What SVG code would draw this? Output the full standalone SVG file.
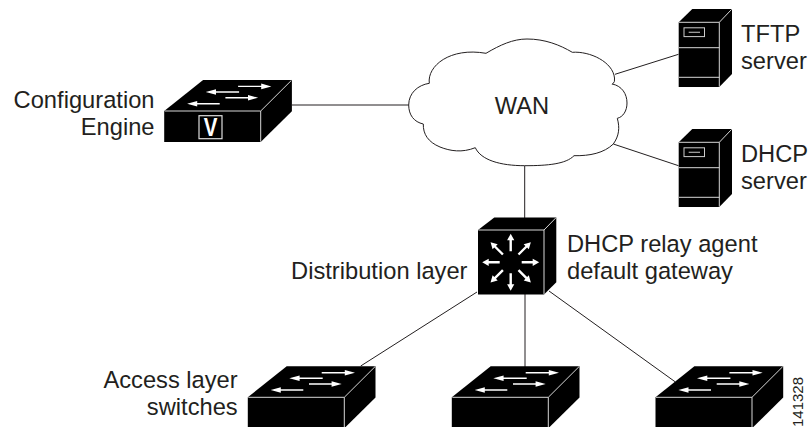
<svg xmlns="http://www.w3.org/2000/svg" xmlns:xlink="http://www.w3.org/1999/xlink" width="809" height="427" viewBox="0 0 809 427">
<style>
text{font-family:"Liberation Sans",Arial,sans-serif;font-size:23.7px;fill:#231f20}
.e{text-anchor:end}
.k{fill:#000;stroke:none}
.c{stroke:#231f20;stroke-width:1;fill:none}
.w{fill:#fff;stroke:none}
.l{stroke:#d8d8d8;stroke-width:1;fill:none}
</style>
<defs>
<g id="sw">
<path class="k" d="M-0.500 0L38.400 -31H127.200V0.200L96 31H-0.500Z"/>
<path class="l" d="M0 0H96L126.700 -30.600M96 0V30.700"/>
<path class="w" d="M73.400 -25.300H96.500V-27.400L106.700 -24.600L96.500 -21.800V-23.900H73.400Z"/>
<path class="w" d="M74.400 -19.700H51.300V-21.800L41 -19L51.300 -16.200V-18.300H74.400Z"/>
<path class="w" d="M60.700 -14H83.300V-16L93.400 -13.300L83.300 -10.600V-12.600H60.700Z"/>
<path class="w" d="M55 -8H32.500V-10L22.400 -7.300L32.500 -4.600V-6.600H55Z"/>
</g>
<g id="srv">
<path class="k" d="M678.700 22.300L692.300 9H732V74L719.300 87H678.700Z"/>
<path class="l" d="M679 22.300H719.300L731.700 9.300M719.300 22.300V86.700M679 47.700H719.300M679 77.300H719.300"/>
<rect x="684" y="27.800" width="20.500" height="8.800" fill="none" stroke="#ccc" stroke-width="1"/>
<path d="M688.700 32.300H700" stroke="#aaa" stroke-width="1.200"/>
</g>
<path id="ar" class="w" d="M-1.200 -11H1.200V-22H3.600L0 -28.500L-3.600 -22H-1.200Z"/>
</defs>

<g id="connectors">
<path class="c" d="M292 105H409"/>
<path class="c" d="M615 74.300L678.500 54.300"/>
<path class="c" d="M613.300 144L678.500 165.700"/>
<path class="c" d="M524.700 165.700V218"/>
<path class="c" d="M477 292L360.700 366"/>
<path class="c" d="M525 294V367"/>
<path class="c" d="M549 291L675 381.700"/>
</g>

<g id="wan">
<path d="M486 53.300C500 45 513 39 527 39C545 39 560 45 572.300 52.300C590 51 613 62 614.500 78Q615 82 613.300 83.300C611 85 612.500 84 612.300 84C622 86 627 94 627 103C627 111 623 117 617.300 118.300C620 128 619 136 613.300 144C604 153 590 156 574 155.700C566 164 548 165.700 524.700 165.700C500 165.700 481 160 475.300 147.700C462 153 450 151 440 147C428 142 423 134 423.300 124C414 122 408.700 115 408.700 105C408.700 93 418 85 429.300 83.300C427 66 450 47 486 53.300Z" fill="#fff" stroke="#231f20" stroke-width="1"/>
<text x="522" y="114" text-anchor="middle">WAN</text>
</g>

<g id="config-engine">
<use xlink:href="#sw" href="#sw" x="164.700" y="111"/>
<rect x="199" y="115.700" width="23" height="23" fill="#000" stroke="#ddd" stroke-width="1.200"/>
<text transform="translate(210.500 136) scale(0.82 1)" text-anchor="middle" style="fill:#fff;font-weight:bold;font-size:25px">V</text>
<text class="e" x="154.500" y="108">Configuration</text>
<text class="e" x="154.500" y="135">Engine</text>
</g>

<g id="tftp">
<use xlink:href="#srv" href="#srv"/>
<text x="741" y="42">TFTP</text>
<text x="741" y="68.500">server</text>
</g>

<g id="dhcp">
<use xlink:href="#srv" href="#srv" y="120"/>
<text x="741" y="162">DHCP</text>
<text x="741" y="188.500">server</text>
</g>

<g id="distribution">
<path class="k" d="M478 230L494.300 217.500H556.300V282.300L544 294.500H478Z"/>
<path class="l" d="M478.300 230H544L556 217.700M544 230V294.300"/>
<g transform="translate(510.700 262.300)">
<use xlink:href="#ar" href="#ar"/>
<use xlink:href="#ar" href="#ar" transform="rotate(45)"/>
<use xlink:href="#ar" href="#ar" transform="rotate(90)"/>
<use xlink:href="#ar" href="#ar" transform="rotate(135)"/>
<use xlink:href="#ar" href="#ar" transform="rotate(180)"/>
<use xlink:href="#ar" href="#ar" transform="rotate(225)"/>
<use xlink:href="#ar" href="#ar" transform="rotate(270)"/>
<use xlink:href="#ar" href="#ar" transform="rotate(315)"/>
</g>
<text x="567" y="252.300">DHCP relay agent</text>
<text x="567" y="279">default gateway</text>
<text class="e" x="467.500" y="278.500">Distribution layer</text>
</g>

<g id="access-1">
<use xlink:href="#sw" href="#sw" x="248.300" y="397.300"/>
<text class="e" x="237.700" y="387.700">Access layer</text>
<text class="e" x="237.700" y="415">switches</text>
</g>
<g id="access-2"><use xlink:href="#sw" href="#sw" x="452.300" y="397.300"/></g>
<g id="access-3"><use xlink:href="#sw" href="#sw" x="656" y="397.300"/></g>

<text x="803" y="427" transform="rotate(-90 803 427)" style="font-size:15px">141328</text>
</svg>
